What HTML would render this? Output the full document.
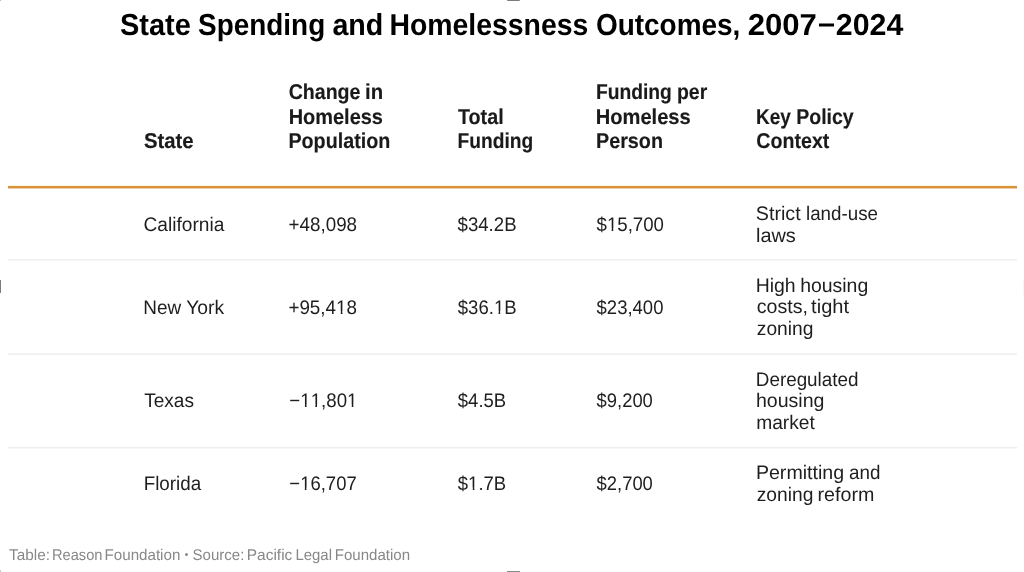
<!DOCTYPE html>
<html>
<head>
<meta charset="utf-8">
<style>
html,body{margin:0;padding:0;background:#fff;}
body{width:1024px;height:572px;position:relative;overflow:hidden;font-family:"Liberation Sans",sans-serif;text-rendering:geometricPrecision;}
.t{position:absolute;white-space:nowrap;line-height:1;transform-origin:0 0;opacity:0.999;}
.b{font-weight:bold;}
.r{position:absolute;left:8px;width:1009px;height:1px;}
.d{position:absolute;}
.one{display:inline-block;clip-path:polygon(-0.5em -0.5em,1.5em -0.5em,1.5em 0.64em,0.3398em 0.64em,0.3398em 1.5em,0.2515em 1.5em,0.2515em 0.64em,-0.5em 0.64em);}
</style>
</head>
<body>
<div style="position:absolute;left:0;top:0;width:1024px;height:572px;will-change:transform"></div>
<div class="r" style="top:185px;background:rgba(240,205,120,0.12)"></div>
<div class="r" style="top:186px;background:#db9137"></div>
<div class="r" style="top:187px;background:#db9137"></div>
<div class="r" style="top:188px;background:rgba(219,145,55,0.45)"></div>
<div class="r" style="top:259px;background:#eeeeee"></div>
<div class="r" style="top:260px;background:#f7f7f7"></div>
<div class="r" style="top:353px;background:#f2f2f2"></div>
<div class="r" style="top:354px;background:#f2f2f2"></div>
<div class="r" style="top:447px;background:#eeeeee"></div>
<div class="r" style="top:448px;background:#f8f8f8"></div>
<div class="d" style="left:507px;top:0;width:13px;height:1px;background:#7c7c7c;border-radius:0 0 1px 1px"></div>
<div class="d" style="left:507px;top:571px;width:13px;height:1px;background:#8a8a8a"></div>
<div class="d" style="left:0;top:280px;width:1px;height:13px;background:#7c7c7c"></div>
<div class="d" style="left:1023px;top:279px;width:1px;height:16px;background:#f6f6f6"></div>
<div class="d" style="left:0;top:0;width:1px;height:1px;background:#bdbdbd"></div>
<div class="d" style="left:819px;top:24px;width:15px;height:2px;background:#000;box-shadow:0 -1px 0 rgba(0,0,0,0.5),0 1px 0 rgba(0,0,0,0.5)"></div>
<div class="d" style="left:185px;top:553px;width:3px;height:3px;border-radius:50%;background:#8a8a8a"></div>
<div class="d" style="left:0;top:570px;width:1px;height:2px;background:#c8c8c8"></div>
<div class="t b" id="e0" style="left:119px;top:11px;font-size:30.3px;color:#000;transform:translate(0.967px,0.400px) scaleX(0.9558);">State</div>
<div class="t b" id="e1" style="left:198px;top:11px;font-size:30.3px;color:#000;transform:translate(0.101px,0.400px) scaleX(0.9207);">Spending</div>
<div class="t b" id="e2" style="left:332px;top:11px;font-size:30.3px;color:#000;transform:translate(0.426px,0.400px) scaleX(0.9454);">and</div>
<div class="t b" id="e3" style="left:389px;top:11px;font-size:30.3px;color:#000;transform:translate(0.386px,0.400px) scaleX(0.9374);">Homelessness</div>
<div class="t b" id="e4" style="left:595px;top:11px;font-size:30.3px;color:#000;transform:translate(0.906px,0.400px) scaleX(0.9227);">Outcomes,</div>
<div class="t b" id="e5" style="left:747px;top:11px;font-size:30.3px;color:#000;transform:translate(0.724px,0.400px) scaleX(1.0264);">2007</div>
<div class="t b" id="e6" style="left:835px;top:11px;font-size:30.3px;color:#000;transform:translate(0.839px,0.400px) scaleX(1.0005);">2024</div>
<div class="t b" id="e7" style="left:143px;top:130px;font-size:21.5px;color:#1a1a1a;transform:translate(0.889px,0.800px) scaleX(0.9450);-webkit-text-stroke:0.15px #1a1a1a;">State</div>
<div class="t b" id="e8" style="left:288px;top:82px;font-size:21.5px;color:#1a1a1a;transform:translate(0.690px,0.100px) scaleX(0.9101);-webkit-text-stroke:0.15px #1a1a1a;">Change</div>
<div class="t b" id="e9" style="left:365px;top:82px;font-size:21.5px;color:#1a1a1a;transform:translate(0.052px,0.100px) scaleX(0.9464);-webkit-text-stroke:0.15px #1a1a1a;">in</div>
<div class="t b" id="e10" style="left:288px;top:106px;font-size:21.5px;color:#1a1a1a;transform:translate(0.667px,0.800px) scaleX(0.9280);-webkit-text-stroke:0.15px #1a1a1a;">Homeless</div>
<div class="t b" id="e11" style="left:288px;top:130px;font-size:21.5px;color:#1a1a1a;transform:translate(0.421px,0.900px) scaleX(0.9173);-webkit-text-stroke:0.15px #1a1a1a;">Population</div>
<div class="t b" id="e12" style="left:457px;top:106px;font-size:21.5px;color:#1a1a1a;transform:translate(0.973px,0.800px) scaleX(0.9179);-webkit-text-stroke:0.15px #1a1a1a;">Total</div>
<div class="t b" id="e13" style="left:457px;top:130px;font-size:21.5px;color:#1a1a1a;transform:translate(0.607px,0.600px) scaleX(0.8930);-webkit-text-stroke:0.15px #1a1a1a;">Funding</div>
<div class="t b" id="e14" style="left:595px;top:81px;font-size:21.5px;color:#1a1a1a;transform:translate(0.991px,0.900px) scaleX(0.8952);-webkit-text-stroke:0.15px #1a1a1a;">Funding</div>
<div class="t b" id="e15" style="left:676px;top:81px;font-size:21.5px;color:#1a1a1a;transform:translate(0.999px,0.900px) scaleX(0.9031);-webkit-text-stroke:0.15px #1a1a1a;">per</div>
<div class="t b" id="e16" style="left:595px;top:106px;font-size:21.5px;color:#1a1a1a;transform:translate(0.735px,0.700px) scaleX(0.9352);-webkit-text-stroke:0.15px #1a1a1a;">Homeless</div>
<div class="t b" id="e17" style="left:595px;top:130px;font-size:21.5px;color:#1a1a1a;transform:translate(0.982px,0.600px) scaleX(0.9192);-webkit-text-stroke:0.15px #1a1a1a;">Person</div>
<div class="t b" id="e18" style="left:756px;top:106px;font-size:21.5px;color:#1a1a1a;transform:translate(0.078px,0.800px) scaleX(0.8815);-webkit-text-stroke:0.15px #1a1a1a;">Key</div>
<div class="t b" id="e19" style="left:796px;top:106px;font-size:21.5px;color:#1a1a1a;transform:translate(0.219px,0.800px) scaleX(0.9080);-webkit-text-stroke:0.15px #1a1a1a;">Policy</div>
<div class="t b" id="e20" style="left:756px;top:130px;font-size:21.5px;color:#1a1a1a;transform:translate(0.356px,0.600px) scaleX(0.9120);-webkit-text-stroke:0.15px #1a1a1a;">Context</div>
<div class="t" id="e21" style="left:143px;top:216px;font-size:19.6px;color:#1e1e1e;transform:translate(0.496px,0.200px) scaleX(0.9763);">California</div>
<div class="t" id="e22" style="left:288px;top:216px;font-size:19.6px;color:#1e1e1e;transform:translate(0.553px,0.100px) scaleX(0.9602);">+48,098</div>
<div class="t" id="e23" style="left:457px;top:215px;font-size:19.6px;color:#1e1e1e;transform:translate(0.550px,1.000px) scaleX(0.9505);">$34.2B</div>
<div class="t" id="e24" style="left:596px;top:215px;font-size:19.6px;color:#1e1e1e;transform:translate(0.550px,1.000px) scaleX(0.9519);">$<span class="one">1</span>5,700</div>
<div class="t" id="e25" style="left:755px;top:204px;font-size:19.6px;color:#1e1e1e;transform:translate(0.813px,0.600px) scaleX(1.0040);">Strict</div>
<div class="t" id="e26" style="left:805px;top:204px;font-size:19.6px;color:#1e1e1e;transform:translate(1.000px,0.600px) scaleX(0.9571);">land-use</div>
<div class="t" id="e27" style="left:755px;top:226px;font-size:19.6px;color:#1e1e1e;transform:translate(0.950px,0.500px) scaleX(1.0178);">laws</div>
<div class="t" id="e28" style="left:143px;top:298px;font-size:19.6px;color:#1e1e1e;transform:translate(0.304px,0.600px) scaleX(0.9669);">New</div>
<div class="t" id="e29" style="left:186px;top:298px;font-size:19.6px;color:#1e1e1e;transform:translate(0.182px,0.600px) scaleX(0.9856);">York</div>
<div class="t" id="e30" style="left:288px;top:298px;font-size:19.6px;color:#1e1e1e;transform:translate(0.386px,0.600px) scaleX(0.9609);">+95,4<span class="one">1</span>8</div>
<div class="t" id="e31" style="left:457px;top:298px;font-size:19.6px;color:#1e1e1e;transform:translate(0.817px,0.500px) scaleX(0.9459);">$36.<span class="one">1</span>B</div>
<div class="t" id="e32" style="left:596px;top:298px;font-size:19.6px;color:#1e1e1e;transform:translate(0.562px,0.500px) scaleX(0.9440);">$23,400</div>
<div class="t" id="e33" style="left:755px;top:276px;font-size:19.6px;color:#1e1e1e;transform:translate(0.702px,0.900px) scaleX(0.9917);">High</div>
<div class="t" id="e34" style="left:800px;top:276px;font-size:19.6px;color:#1e1e1e;transform:translate(0.133px,0.900px) scaleX(0.9921);">housing</div>
<div class="t" id="e35" style="left:756px;top:298px;font-size:19.6px;color:#1e1e1e;transform:translate(0.743px,0.400px) scaleX(0.9991);">costs,</div>
<div class="t" id="e36" style="left:811px;top:298px;font-size:19.6px;color:#1e1e1e;transform:translate(0.122px,0.400px) scaleX(1.0216);">tight</div>
<div class="t" id="e37" style="left:756px;top:319px;font-size:19.6px;color:#1e1e1e;transform:translate(0.818px,0.900px) scaleX(0.9795);">zoning</div>
<div class="t" id="e38" style="left:144px;top:392px;font-size:19.6px;color:#1e1e1e;transform:translate(0.197px,0.200px) scaleX(0.9716);">Texas</div>
<div class="t" id="e39" style="left:289px;top:392px;font-size:19.6px;color:#1e1e1e;transform:translate(0.295px,0.100px) scaleX(0.9543);">−<span class="one">1</span><span class="one">1</span>,80<span class="one">1</span></div>
<div class="t" id="e40" style="left:457px;top:392px;font-size:19.6px;color:#1e1e1e;transform:translate(0.831px,0.000px) scaleX(0.9434);">$4.5B</div>
<div class="t" id="e41" style="left:596px;top:392px;font-size:19.6px;color:#1e1e1e;transform:translate(0.574px,0.000px) scaleX(0.9390);">$9,200</div>
<div class="t" id="e42" style="left:755px;top:370px;font-size:19.6px;color:#1e1e1e;transform:translate(0.795px,0.700px) scaleX(0.9616);">Deregulated</div>
<div class="t" id="e43" style="left:755px;top:392px;font-size:19.6px;color:#1e1e1e;transform:translate(0.922px,0.200px) scaleX(0.9984);">housing</div>
<div class="t" id="e44" style="left:756px;top:413px;font-size:19.6px;color:#1e1e1e;transform:translate(0.162px,0.800px) scaleX(0.9794);">market</div>
<div class="t" id="e45" style="left:143px;top:475px;font-size:19.6px;color:#1e1e1e;transform:translate(0.661px,0.300px) scaleX(0.9596);">Florida</div>
<div class="t" id="e46" style="left:289px;top:475px;font-size:19.6px;color:#1e1e1e;transform:translate(0.360px,0.100px) scaleX(0.9431);">−<span class="one">1</span>6,707</div>
<div class="t" id="e47" style="left:457px;top:475px;font-size:19.6px;color:#1e1e1e;transform:translate(0.831px,0.000px) scaleX(0.9434);">$<span class="one">1</span>.7B</div>
<div class="t" id="e48" style="left:596px;top:475px;font-size:19.6px;color:#1e1e1e;transform:translate(0.574px,0.000px) scaleX(0.9390);">$2,700</div>
<div class="t" id="e49" style="left:755px;top:464px;font-size:19.6px;color:#1e1e1e;transform:translate(0.915px,0.300px) scaleX(0.9996);">Permitting</div>
<div class="t" id="e50" style="left:849px;top:464px;font-size:19.6px;color:#1e1e1e;transform:translate(0.009px,0.300px) scaleX(0.9586);">and</div>
<div class="t" id="e51" style="left:756px;top:485px;font-size:19.6px;color:#1e1e1e;transform:translate(0.745px,0.600px) scaleX(0.9798);">zoning</div>
<div class="t" id="e52" style="left:817px;top:485px;font-size:19.6px;color:#1e1e1e;transform:translate(0.542px,0.600px) scaleX(1.0032);">reform</div>
<div class="t" id="e53" style="left:9px;top:547px;font-size:15.5px;color:#888;transform:translate(0.029px,0.600px) scaleX(0.9883);">Table:</div>
<div class="t" id="e54" style="left:51px;top:547px;font-size:15.5px;color:#888;transform:translate(0.940px,0.600px) scaleX(0.9451);">Reason</div>
<div class="t" id="e55" style="left:104px;top:547px;font-size:15.5px;color:#888;transform:translate(0.567px,0.600px) scaleX(0.9764);">Foundation</div>
<div class="t" id="e56" style="left:192px;top:547px;font-size:15.5px;color:#888;transform:translate(0.553px,0.600px) scaleX(0.9688);">Source:</div>
<div class="t" id="e57" style="left:246px;top:547px;font-size:15.5px;color:#888;transform:translate(0.696px,0.600px) scaleX(0.9993);">Pacific</div>
<div class="t" id="e58" style="left:295px;top:547px;font-size:15.5px;color:#888;transform:translate(0.429px,0.600px) scaleX(0.9636);">Legal</div>
<div class="t" id="e59" style="left:334px;top:547px;font-size:15.5px;color:#888;transform:translate(0.792px,0.600px) scaleX(0.9710);">Foundation</div>
</body>
</html>
